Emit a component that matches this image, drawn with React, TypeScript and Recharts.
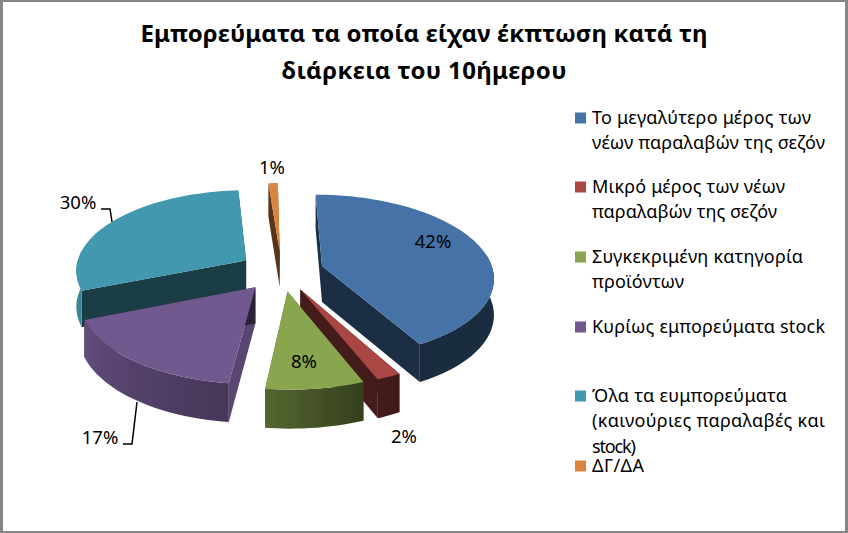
import { Legend, Pie, PieChart } from "recharts";

const legendLines = [
  ["Το μεγαλύτερο μέρος των", "νέων παραλαβών της σεζόν"],
  ["Μικρό μέρος των νέων", "παραλαβών της σεζόν"],
  ["Συγκεκριμένη κατηγορία", "προϊόντων"],
  ["Κυρίως εμπορεύματα stock"],
  ["Όλα τα ευμπορεύματα", "(καινούριες παραλαβές και", "stock)"],
  ["ΔΓ/ΔΑ"],
];
const values = [42, 2, 8, 17, 30, 1];
const colors = ["#4572A7", "#AA4643", "#89A54E", "#71588F", "#4198AF", "#DB843D"];
const titleLines = ["Εμπορεύματα τα οποία είχαν έκπτωση κατά τη", "διάρκεια του 10ήμερου"];

const data = values.map((value, i) => ({
  name: legendLines[i].join(" "),
  value,
  fill: colors[i],
}));

// layout
const legendWidths = [[219, 233], [193, 185], [211, 92], [233], [195, 233, 44], [52]];
const legendTops = [118, 187, 257, 327, 396, 466];
const labelSpots = [[433, 248], [404, 443], [304, 368], [100, 444], [78, 209], [272, 174]];
const leaders: Record<number, string> = {
  3: "123,444 132,444 137,402",
  4: "101,209 110,209 112,222",
};
const backSlices = new Set(data.filter((_, i) => [0, 4, 5].includes(i)).map((d) => d.name));

const FONT = "'Noto Sans', sans-serif";
const PERSPECTIVE = 0.12;
const TILT = 0.474;
const EXPLODE = 0.247;
const DEPTH = 36;
const SHEAR = 0.012;

function shadeColor(hex: string, k: number) {
  const n = parseInt(hex.slice(1), 16);
  const c = [n >> 16, (n >> 8) & 255, n & 255].map((v) => Math.round(v * k));
  return `rgb(${c.join(",")})`;
}

// how bright the outer wall is, by clockwise angle from the top
function wallShade(a: number) {
  const stops = [[0, 0.4], [158, 0.38], [187, 0.62], [248, 0.87], [275, 1], [360, 1]];
  for (let i = 1; i < stops.length; i++) {
    if (a <= stops[i][0]) {
      const t = (a - stops[i - 1][0]) / (stops[i][0] - stops[i - 1][0]);
      return stops[i - 1][1] + t * (stops[i][1] - stops[i - 1][1]);
    }
  }
  return 1;
}

function arcSteps(from: number, to: number) {
  const steps: number[] = [];
  for (let a = from; a < to; a += 2) steps.push(a);
  steps.push(to);
  return steps;
}

function Slice3D(props: any, wanted: boolean) {
  const { cx, cy, outerRadius, startAngle, endAngle, fill, name } = props;
  if (backSlices.has(name) !== wanted) return <g />;
  const a0 = 90 - startAngle;
  const a1 = 90 - endAngle;
  const mid = (((a0 + a1) / 2) * Math.PI) / 180;
  const ox = EXPLODE * Math.sin(mid);
  const oy = -EXPLODE * Math.cos(mid);

  const project = (deg: number, r: number, drop = false) => {
    const t = (deg * Math.PI) / 180;
    const X = ox + r * Math.sin(t);
    const Y = oy - r * Math.cos(t);
    const s = 1 / (1 - PERSPECTIVE * Y);
    return {
      x: cx + outerRadius * (X * s + SHEAR * Y),
      y: cy + outerRadius * TILT * Y * s + (drop ? DEPTH * Math.sqrt(s) : 0),
    };
  };
  const at = (deg: number, r: number, drop = false) => {
    const p = project(deg, r, drop);
    return `${p.x.toFixed(1)},${p.y.toFixed(1)}`;
  };

  const edge = (a: number) => (
    <polygon
      points={`${at(a, 0)} ${at(a, 1)} ${at(a, 1, true)} ${at(a, 0, true)}`}
      fill={shadeColor(fill, a > 170 && a < 200 ? 0.8 : 0.4)}
    />
  );

  // the outer wall only shows on the front half of the pie
  const wallFrom = Math.max(a0, 82);
  const wallTo = Math.min(a1, 278);
  const wall = wallFrom < wallTo ? arcSteps(wallFrom, wallTo) : [];
  const gradId = `wall-${colors.indexOf(fill)}`;
  const x1 = wall.length ? project(wall[0], 1).x : 0;
  const x2 = wall.length ? project(wall[wall.length - 1], 1).x : 0;

  return (
    <g>
      {edge(a0)}
      {edge(a1)}
      {wall.length > 0 && (
        <>
          <defs>
            <linearGradient id={gradId} gradientUnits="userSpaceOnUse" x1={x1} x2={x2} y1={0} y2={0}>
              {wall.map((a) => (
                <stop
                  key={a}
                  offset={(project(a, 1).x - x1) / (x2 - x1)}
                  stopColor={shadeColor(fill, wallShade(a))}
                />
              ))}
            </linearGradient>
          </defs>
          <polygon
            points={`${wall.map((a) => at(a, 1)).join(" ")} ${[...wall]
              .reverse()
              .map((a) => at(a, 1, true))
              .join(" ")}`}
            fill={`url(#${gradId})`}
          />
        </>
      )}
      <polygon points={`${at(a0, 0)} ${arcSteps(a0, a1).map((a) => at(a, 1)).join(" ")}`} fill={fill} />
    </g>
  );
}

function renderLabel(props: any) {
  const { index, value } = props;
  const [x, y] = labelSpots[index];
  return (
    <g key={index}>
      {leaders[index] && (
        <polyline points={leaders[index]} fill="none" stroke="#000" strokeWidth={1.5} />
      )}
      <text x={x} y={y} textAnchor="middle" fontFamily={FONT} fontSize={18.5} fill="#000">
        {value}%
      </text>
    </g>
  );
}

function LegendBox({ payload }: any) {
  const entries = (payload || []).filter((e: any) => e.type !== "none").slice(0, values.length);
  return (
    <svg width={848} height={533} style={{ position: "absolute", left: 0, top: 0 }}>
      {entries.map((entry: any, i: number) => (
        <g key={entry.value}>
          <rect x={575} y={legendTops[i] - 5.5} width={11} height={11} fill={entry.color} />
          {legendLines[i].map((line, j) => (
            <text
              key={line}
              x={592}
              y={legendTops[i] + 25.3 * j + 6}
              textLength={legendWidths[i][j]}
              fontFamily={FONT}
              fontSize={18}
              fill="#000"
            >
              {line}
            </text>
          ))}
        </g>
      ))}
    </svg>
  );
}

export default function App() {
  const backShape = (p: any) => Slice3D(p, true);
  const frontShape = (p: any) => Slice3D(p, false);
  return (
    <div style={{ position: "absolute", left: 0, top: 0, width: 848, height: 533, background: "#fff" }}>
      <PieChart width={848} height={533} margin={{ top: 0, right: 0, bottom: 0, left: 0 }}>
        <path d="M0 0H848V533H0Z M3 2V531H845V2Z" fill="#868686" fillRule="evenodd" />
        <text x={424} y={42} textAnchor="middle" textLength={567} fontFamily={FONT} fontWeight={700} fontSize={24} fill="#000">
          {titleLines[0]}
        </text>
        <text x={424} y={79} textAnchor="middle" textLength={285} fontFamily={FONT} fontWeight={700} fontSize={24} fill="#000">
          {titleLines[1]}
        </text>
        <Pie
          data={data}
          dataKey="value"
          nameKey="name"
          cx={281.5}
          cy={271}
          outerRadius={171}
          startAngle={90}
          endAngle={-270}
          stroke="none"
          shape={backShape}
          activeShape={backShape}
          inactiveShape={backShape}
          isAnimationActive={false}
        />
        <Pie
          data={data}
          dataKey="value"
          nameKey="name"
          cx={281.5}
          cy={271}
          outerRadius={171}
          startAngle={90}
          endAngle={-270}
          stroke="none"
          legendType="none"
          shape={frontShape}
          activeShape={frontShape}
          inactiveShape={frontShape}
          label={renderLabel}
          labelLine={false}
          isAnimationActive={false}
        />
        <Legend
          content={<LegendBox />}
          itemSorter={null}
          wrapperStyle={{ left: 0, top: 0, width: 848, height: 533, pointerEvents: "none" }}
        />
      </PieChart>
    </div>
  );
}
